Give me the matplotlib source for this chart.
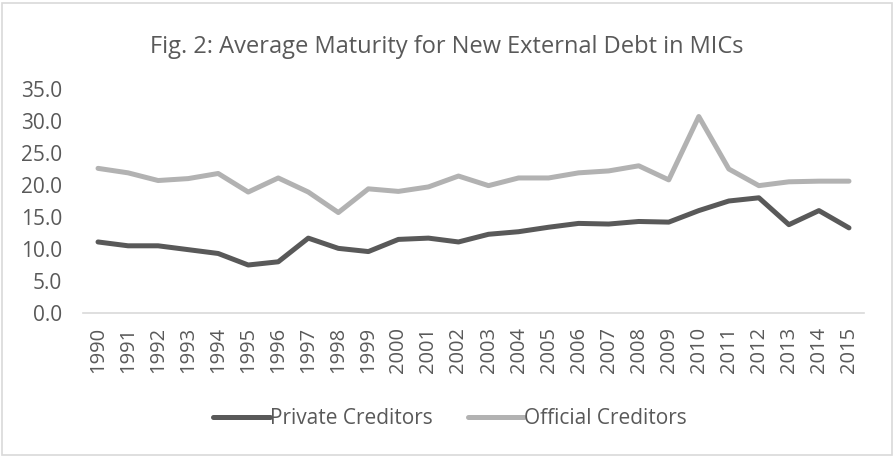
import matplotlib.pyplot as plt
from matplotlib.patches import Rectangle

# Average maturity of new external debt commitments (years)
years = list(range(1990, 2016))
private_creditors = [11.1, 10.5, 10.5, 9.9, 9.3, 7.5, 8.0, 11.7, 10.1, 9.6,
                     11.5, 11.7, 11.1, 12.3, 12.7, 13.4, 14.0, 13.9, 14.3, 14.2,
                     16.0, 17.5, 18.0, 13.8, 16.0, 13.3]
official_creditors = [22.6, 21.9, 20.7, 21.0, 21.8, 18.9, 21.1, 18.9, 15.7, 19.4,
                      19.0, 19.7, 21.4, 19.9, 21.1, 21.1, 21.9, 22.2, 23.0, 20.8,
                      30.7, 22.5, 19.9, 20.5, 20.6, 20.6]
yticks = [0, 5, 10, 15, 20, 25, 30, 35]

plt.rcParams['font.family'] = ['Open Sans', 'DejaVu Sans']
text_col = '#595959'

fig = plt.figure(figsize=(8.94, 4.58), dpi=100)
W, H = 894, 458

# chart border
fig.patches.append(Rectangle((2 / W, 3 / H), 890 / W, 452 / H, transform=fig.transFigure,
                             fill=False, edgecolor='#d9d9d9', linewidth=1.2))

ax = fig.add_axes([83 / W, (H - 313) / H, (864 - 83) / W, (313 - 89) / H])
x = list(range(len(years)))
ax.plot(x, private_creditors, color='#595959', linewidth=3.6,
        solid_capstyle='round', solid_joinstyle='round', label='Private Creditors')
ax.plot(x, official_creditors, color='#b2b2b2', linewidth=3.6,
        solid_capstyle='round', solid_joinstyle='round', label='Official Creditors')

ax.set_xlim(-0.5, len(years) - 0.5)
ax.set_ylim(0, 35)
ax.set_yticks(yticks)
ax.set_yticklabels([f'{v:.1f}' for v in yticks])
ax.set_xticks(x)
ax.set_xticklabels([str(y) for y in years], rotation=90)
ax.tick_params(axis='y', length=0, pad=15, labelsize=15, labelcolor=text_col)
ax.tick_params(axis='x', length=0, pad=10, labelsize=14.5, labelcolor=text_col)

for side in ['top', 'right', 'left']:
    ax.spines[side].set_visible(False)
ax.spines['bottom'].set_color('#d9d9d9')
ax.spines['bottom'].set_linewidth(1.2)

fig.text(0.5, (H - 47) / H, 'Fig. 2: Average Maturity for New External Debt in MICs',
         ha='center', va='center', fontsize=17, color=text_col)

fig.legend(loc='center', bbox_to_anchor=(450 / W, (H - 419) / H), ncol=2, frameon=False,
           handlelength=2.7, handletextpad=0.0, columnspacing=1.7,
           fontsize=15, labelcolor=text_col)

fig.savefig('out.png', dpi=100)
